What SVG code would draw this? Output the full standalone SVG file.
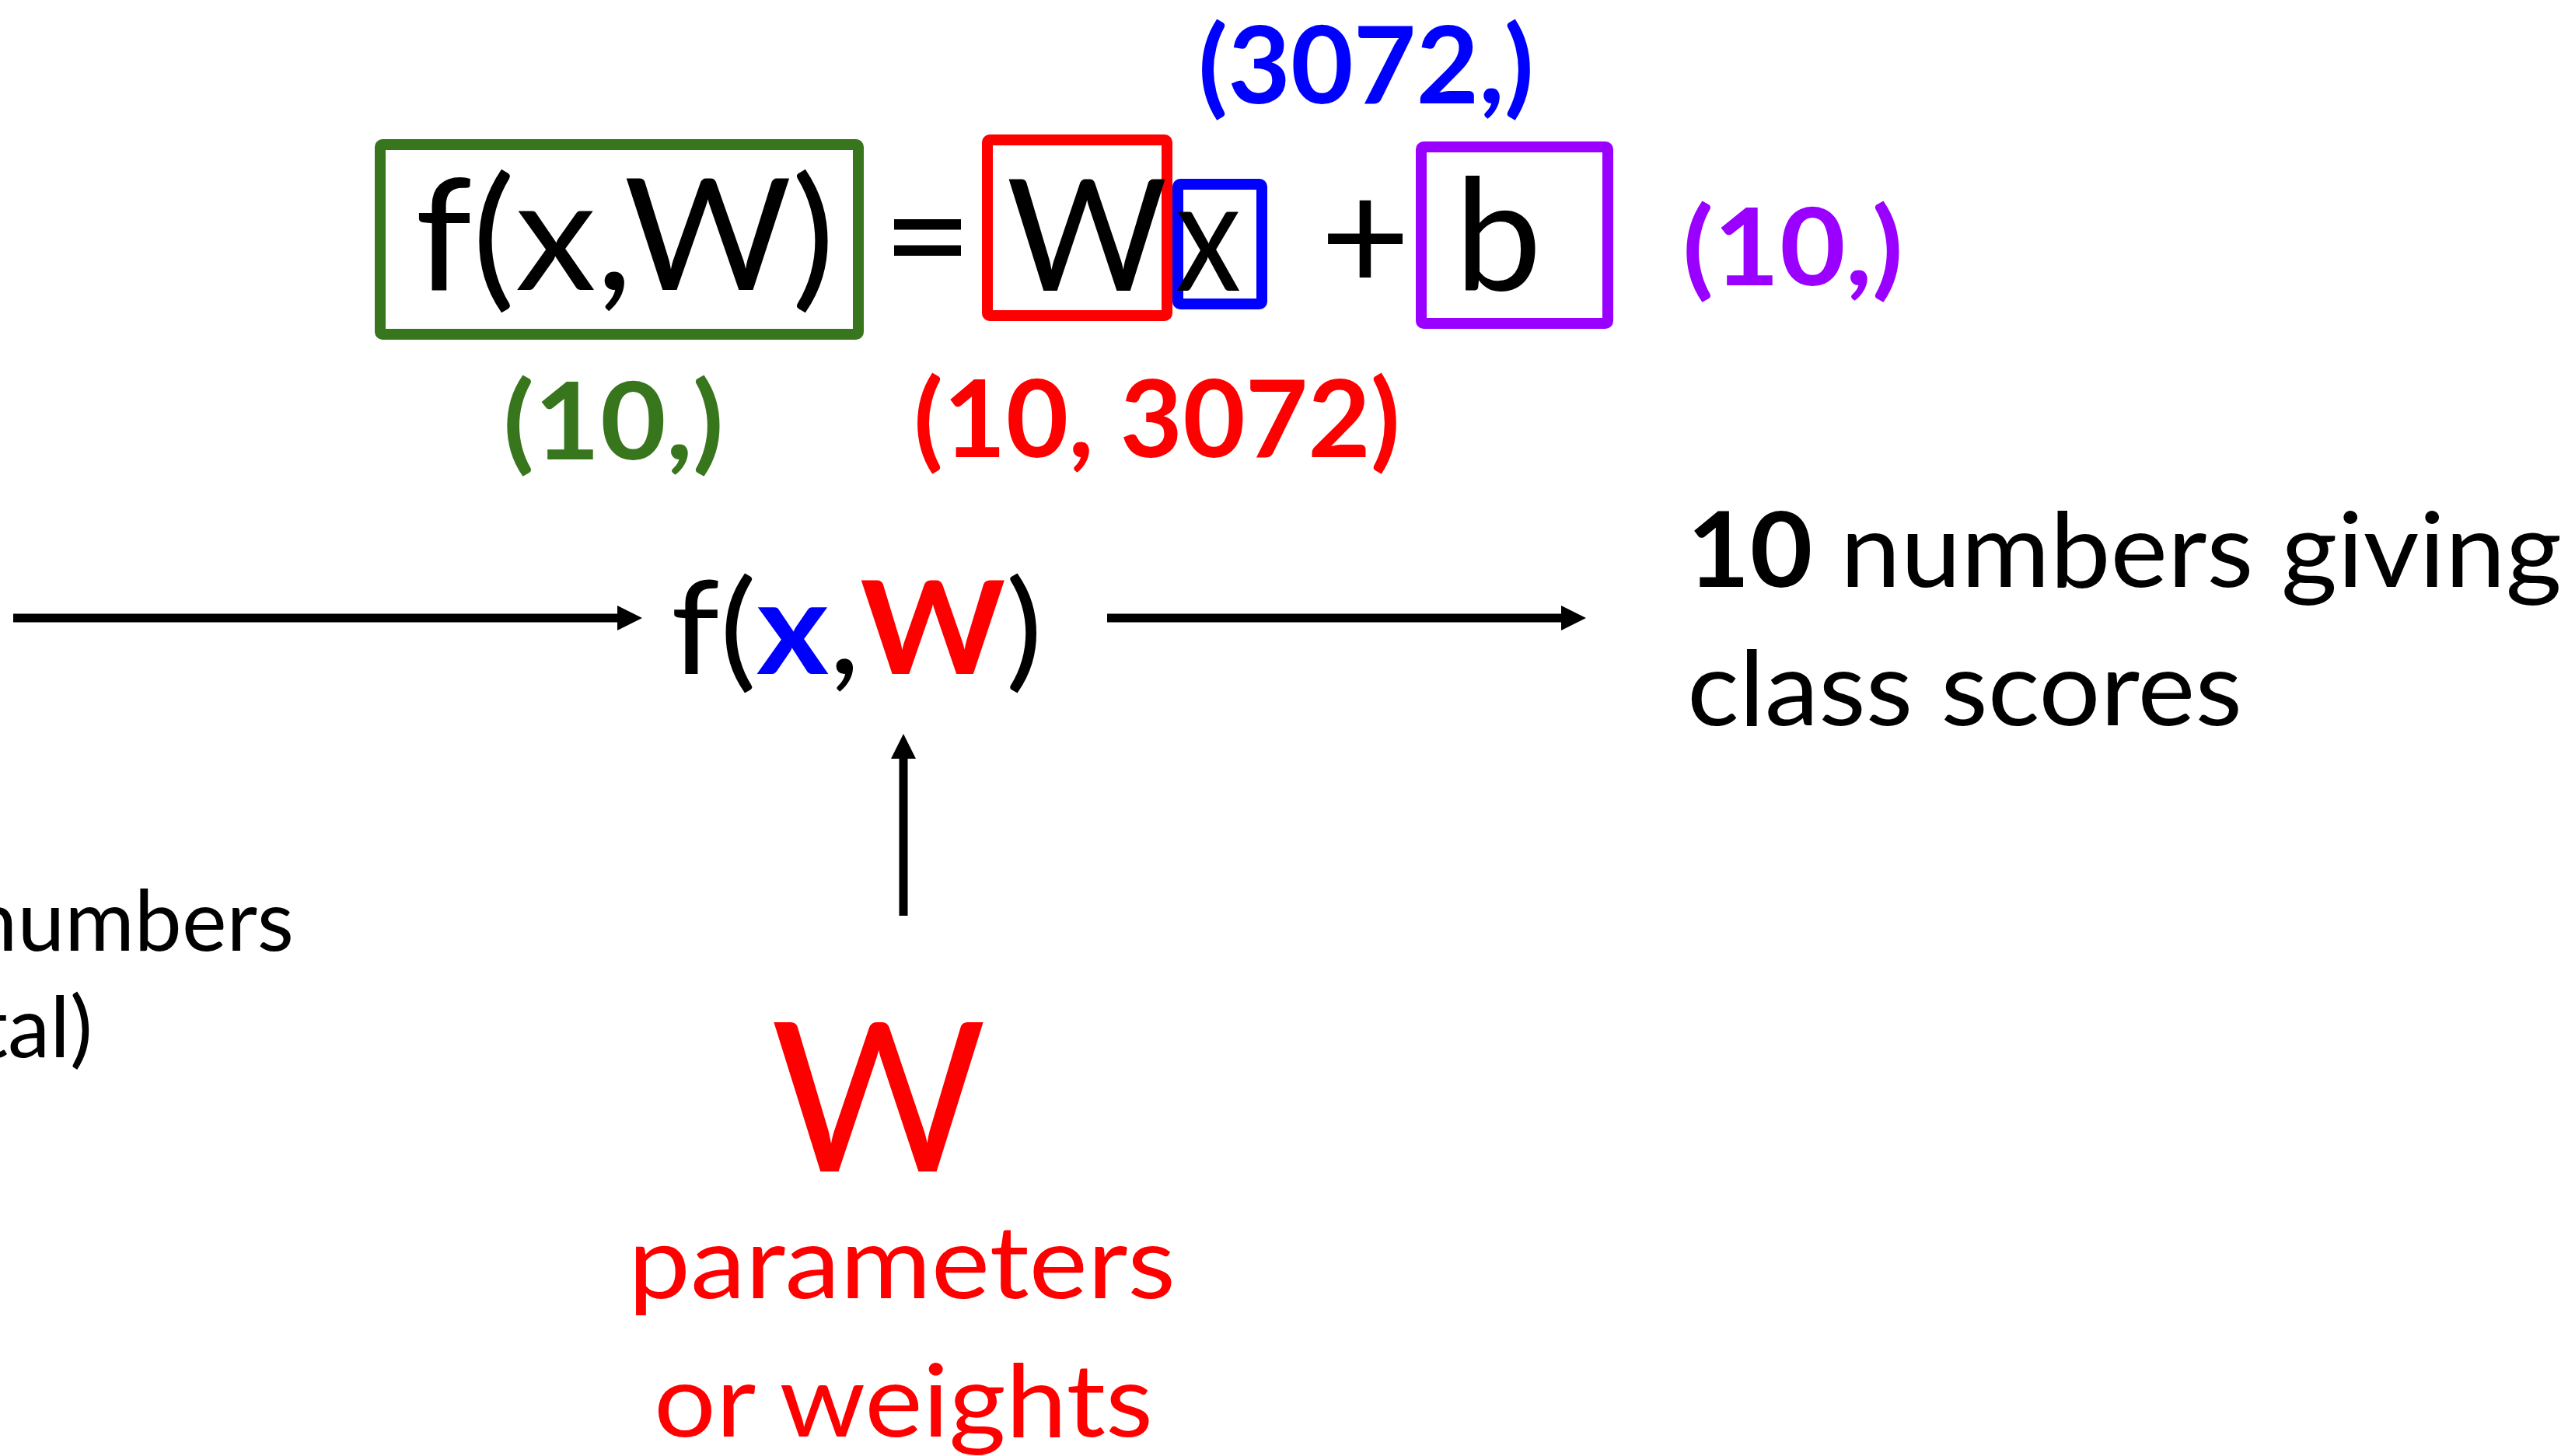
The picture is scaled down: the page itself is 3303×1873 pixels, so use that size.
<svg xmlns="http://www.w3.org/2000/svg" width="3303" height="1873" viewBox="0 0 3303 1873">
<style>
text{font-family:Lato,"Open Sans","Liberation Sans",sans-serif;fill:#000}
.big{font-size:200px}
.lbl{font-size:138px;font-weight:bold}
.box{fill:none;stroke-width:14}
.green{fill:#38761D}
.red{fill:#FF0000}
.blue{fill:#0000FF}
.purple{fill:#9900FF}
.conn{stroke:#000;stroke-width:11;fill:none}
</style>
<defs>
<marker id="ah" markerUnits="userSpaceOnUse" markerWidth="32" markerHeight="32" viewBox="0 0 32 32" refX="0" refY="16" orient="auto">
<path d="M0,0 L32,16 L0,32 z" fill="#000"/>
</marker>
</defs>

<g id="equation">
<rect id="box-fxw" class="box" x="489" y="186" width="615" height="244" rx="3" stroke="#38761D"/>
<rect id="box-W" class="box" x="1270" y="180" width="231" height="226" rx="3" stroke="#FF0000"/>
<rect id="box-x" class="box" x="1515" y="237" width="108" height="154" rx="3" stroke="#0000FF"/>
<rect id="box-b" class="box" x="1828" y="189" width="240" height="227" rx="3" stroke="#9900FF"/>
<text class="big" x="534" y="373" textLength="540" lengthAdjust="spacingAndGlyphs">f(x,W)</text>
<text class="big" x="1193" y="373" text-anchor="middle">=</text>
<text class="big" x="1398" y="374" text-anchor="middle">W</text>
<text class="big" x="1554" y="374" text-anchor="middle" textLength="84" lengthAdjust="spacingAndGlyphs">x</text>
<text class="big" x="1756" y="374" text-anchor="middle">+</text>
<text class="big" x="1927" y="374" text-anchor="middle">b</text>
</g>

<g id="shape-labels">
<text class="lbl blue" x="1757" y="133" text-anchor="middle" textLength="432" lengthAdjust="spacingAndGlyphs">(3072,)</text>
<text class="lbl purple" x="2306" y="367" text-anchor="middle" textLength="284" lengthAdjust="spacingAndGlyphs">(10,)</text>
<text class="lbl green" x="789" y="591" text-anchor="middle" textLength="284" lengthAdjust="spacingAndGlyphs">(10,)</text>
<text class="lbl red" x="1488" y="588" text-anchor="middle" textLength="626" lengthAdjust="spacingAndGlyphs">(10, 3072)</text>
</g>

<g id="node-input">
<text font-size="109" x="378" y="1223" text-anchor="end">numbers</text>
<text font-size="109" x="119" y="1360" text-anchor="end">tal)</text>
</g>

<g id="node-f">
<text font-size="166" x="1102" y="867" text-anchor="middle" textLength="478" lengthAdjust="spacingAndGlyphs">f(<tspan class="blue" font-weight="bold">x</tspan>,<tspan class="red" font-weight="bold">W</tspan>)</text>
</g>

<g id="node-output">
<text font-size="134" x="2170" y="755" textLength="1125" lengthAdjust="spacingAndGlyphs"><tspan font-weight="bold">10</tspan> numbers giving</text>
<text font-size="134" x="2170" y="933" textLength="714" lengthAdjust="spacingAndGlyphs">class scores</text>
</g>

<g id="node-W">
<text class="red" font-size="268" x="1130" y="1507" text-anchor="middle">W</text>
<text class="red" font-size="130" x="1160" y="1670" text-anchor="middle" textLength="704" lengthAdjust="spacingAndGlyphs">parameters</text>
<text class="red" font-size="130" x="1162" y="1848" text-anchor="middle" textLength="642" lengthAdjust="spacingAndGlyphs">or weights</text>
</g>

<g id="connectors">
<line class="conn" x1="17" y1="795" x2="794" y2="795" marker-end="url(#ah)"/>
<line class="conn" x1="1424" y1="795" x2="2008" y2="795" marker-end="url(#ah)"/>
<line class="conn" x1="1162" y1="1178" x2="1162" y2="976" marker-end="url(#ah)"/>
</g>
</svg>
